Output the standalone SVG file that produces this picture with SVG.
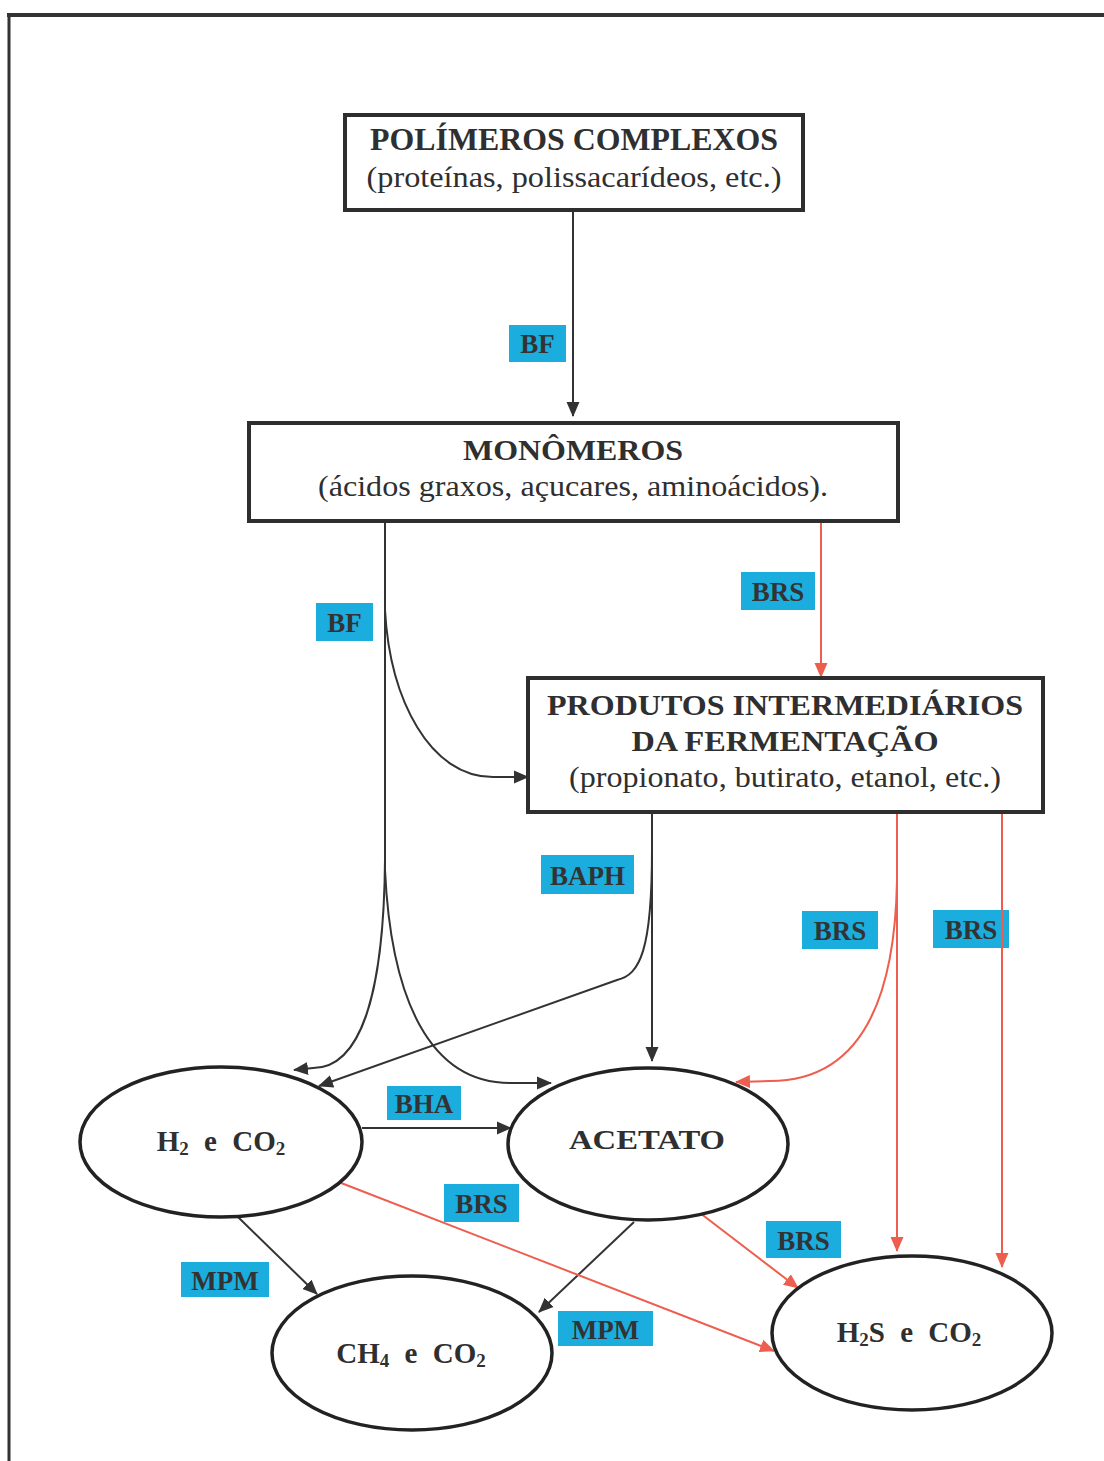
<svg xmlns="http://www.w3.org/2000/svg" width="1104" height="1461" viewBox="0 0 1104 1461">
<style>
.box{fill:#fff;stroke:#2e2e2e;stroke-width:4}
.ell{fill:#fff;stroke:#222;stroke-width:3.5}
.t{font-family:"Liberation Serif","Times New Roman",serif;fill:#2f2f2f;text-anchor:middle}
.b{font-weight:bold}
.lbl rect{fill:#1badde}
.lbl text{font-family:"Liberation Serif","Times New Roman",serif;font-weight:bold;font-size:27px;fill:#333;text-anchor:middle}
.k{fill:none;stroke:#333;stroke-width:2}
.r{fill:none;stroke:#ee5e4e;stroke-width:2}
</style>
<defs>
<marker id="ak" markerUnits="userSpaceOnUse" markerWidth="15" markerHeight="15" viewBox="0 0 15 15" refX="14" refY="7.5" orient="auto">
<path d="M0,1 L15,7.5 L0,14 Z" fill="#333"/>
</marker>
<marker id="ar" markerUnits="userSpaceOnUse" markerWidth="15" markerHeight="15" viewBox="0 0 15 15" refX="14" refY="7.5" orient="auto">
<path d="M0,1 L15,7.5 L0,14 Z" fill="#ee5e4e"/>
</marker>
</defs>
<rect width="1104" height="1461" fill="#fff"/>
<g id="frame" fill="none" stroke="#333">
<line x1="7" y1="15" x2="1104" y2="15" stroke-width="4"/>
<line x1="9" y1="13" x2="9" y2="1461" stroke-width="3"/>
</g>
<g id="labels" class="lbl">
<rect x="509" y="325" width="57" height="37"/><text x="537.5" y="353">BF</text>
<rect x="741" y="572" width="74" height="38"/><text x="778" y="601">BRS</text>
<rect x="316" y="603" width="57" height="38"/><text x="344.5" y="632">BF</text>
<rect x="541" y="855" width="93" height="39"/><text x="587.5" y="885">BAPH</text>
<rect x="802" y="911" width="76" height="38"/><text x="840" y="940">BRS</text>
<rect x="933" y="910" width="76" height="38"/><text x="971" y="939">BRS</text>
<rect x="387" y="1086" width="74" height="34"/><text x="424" y="1113">BHA</text>
<rect x="444" y="1184" width="75" height="38"/><text x="481.5" y="1213">BRS</text>
<rect x="766" y="1221" width="75" height="37"/><text x="803.5" y="1250">BRS</text>
<rect x="181" y="1262" width="88" height="35"/><text x="225" y="1290">MPM</text>
<rect x="558" y="1311" width="95" height="35"/><text x="605.5" y="1339">MPM</text>
</g>
<g id="connectors">
<path class="k" d="M573,210 V416" marker-end="url(#ak)"/>
<path class="k" d="M385,521 V610 C390,700 430,777 493,777 L528,777" marker-end="url(#ak)"/>
<path class="k" d="M385,600 V860 C384,980 365,1068 313,1068 L294,1070" marker-end="url(#ak)"/>
<path class="k" d="M385,600 V870 C391,1000 430,1083 510,1083 L551,1083" marker-end="url(#ak)"/>
<path class="k" d="M652,812 V1061" marker-end="url(#ak)"/>
<path class="k" d="M652,850 C652,950 640,975 617,980 L319,1086" marker-end="url(#ak)"/>
<path class="r" d="M821,521 V677" marker-end="url(#ar)"/>
<path class="r" d="M897,812 V1251" marker-end="url(#ar)"/>
<path class="r" d="M1002,812 V1267" marker-end="url(#ar)"/>
<path class="r" d="M897,880 C895,1000 860,1081 770,1081 L736,1082" marker-end="url(#ar)"/>
<path class="k" d="M362,1128 H511" marker-end="url(#ak)"/>
<path class="k" d="M238,1217 L317,1294" marker-end="url(#ak)"/>
<path class="k" d="M634,1222 L539,1312" marker-end="url(#ak)"/>
<path class="r" d="M336,1181 L774,1351" marker-end="url(#ar)"/>
<path class="r" d="M700,1213 L798,1288" marker-end="url(#ar)"/>
</g>
<g id="polimeros">
<rect class="box" x="345" y="115" width="458" height="95"/>
<text class="t b" x="574" y="150" font-size="31" textLength="408" lengthAdjust="spacingAndGlyphs">POLÍMEROS COMPLEXOS</text>
<text class="t" x="574" y="187" font-size="29" textLength="415" lengthAdjust="spacingAndGlyphs">(proteínas, polissacarídeos, etc.)</text>
</g>
<g id="monomeros">
<rect class="box" x="249" y="423" width="649" height="98"/>
<text class="t b" x="573" y="460" font-size="30" textLength="220" lengthAdjust="spacingAndGlyphs">MONÔMEROS</text>
<text class="t" x="573" y="496" font-size="29" textLength="510" lengthAdjust="spacingAndGlyphs">(ácidos graxos, açucares, aminoácidos).</text>
</g>
<g id="produtos">
<rect class="box" x="528" y="678" width="515" height="134"/>
<text class="t b" x="785" y="715" font-size="29" textLength="476" lengthAdjust="spacingAndGlyphs">PRODUTOS INTERMEDIÁRIOS</text>
<text class="t b" x="785" y="751" font-size="29" textLength="307" lengthAdjust="spacingAndGlyphs">DA FERMENTAÇÃO</text>
<text class="t" x="785" y="787" font-size="29" textLength="432" lengthAdjust="spacingAndGlyphs">(propionato, butirato, etanol, etc.)</text>
</g>
<g id="h2co2">
<ellipse class="ell" cx="221" cy="1142" rx="141" ry="75"/>
<text class="t b" x="221" y="1151" font-size="29" word-spacing="8">H<tspan font-size="19" dy="4">2</tspan><tspan dy="-4"> e CO</tspan><tspan font-size="19" dy="4">2</tspan></text>
</g>
<g id="acetato">
<ellipse class="ell" cx="648" cy="1144" rx="140" ry="76"/>
<text class="t b" x="647" y="1149" font-size="28" textLength="156" lengthAdjust="spacingAndGlyphs">ACETATO</text>
</g>
<g id="ch4co2">
<ellipse class="ell" cx="412" cy="1353" rx="140" ry="77"/>
<text class="t b" x="411" y="1363" font-size="29" word-spacing="8">CH<tspan font-size="19" dy="4">4</tspan><tspan dy="-4"> e CO</tspan><tspan font-size="19" dy="4">2</tspan></text>
</g>
<g id="h2sco2">
<ellipse class="ell" cx="912" cy="1333" rx="140" ry="77"/>
<text class="t b" x="909" y="1342" font-size="29" word-spacing="8">H<tspan font-size="19" dy="4">2</tspan><tspan dy="-4">S e CO</tspan><tspan font-size="19" dy="4">2</tspan></text>
</g>
</svg>
